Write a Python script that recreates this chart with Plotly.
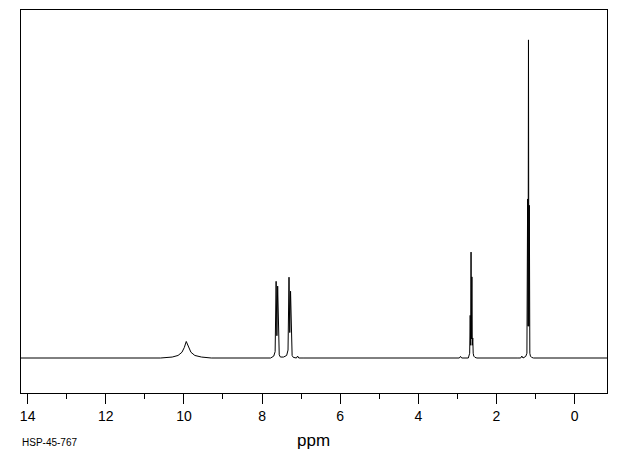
import plotly.graph_objects as go

# Chemical shift (ppm) and relative intensity
ppm = [14.17, 10.6, 10.3, 10.15, 10.05, 9.99, 9.94, 9.89, 9.82, 9.72, 9.55, 9.3,
       7.78, 7.70, 7.665, 7.64, 7.62, 7.60, 7.575, 7.56, 7.53, 7.45, 7.37, 7.335,
       7.31, 7.29, 7.27, 7.245, 7.23, 7.20, 7.12, 7.09, 7.06, 6.95,
       2.95, 2.92, 2.89, 2.72, 2.70, 2.685, 2.672, 2.66, 2.65, 2.64, 2.628,
       2.618, 2.606, 2.595, 2.58, 2.55, 2.5,
       1.45, 1.38, 1.35, 1.32, 1.25, 1.22, 1.202, 1.19, 1.18, 1.17, 1.158, 1.145,
       1.13, 1.10, 1.05, -0.83]
intensity = [0, 0, 0.3, 0.8, 1.8, 3.3, 5.2, 3.6, 1.8, 0.8, 0.3, 0,
             0, 0.6, 2.0, 24.1, 7, 22.6, 2.5, 1.0, 0.3, 0.3, 0.8, 2.5,
             25.4, 8, 21, 2.5, 0.8, 0.2, 0, 0.6, 0, 0,
             0, 0.5, 0, 0, 0.6, 1.5, 13.4, 4, 33.3, 6, 25.5,
             4, 6.3, 1.5, 0.6, 0.2, 0,
             0, 0, 0.6, 0, 0.5, 1.5, 50, 10, 100, 10, 48, 1.5,
             0.6, 0.2, 0, 0]

tick_vals = [14, 12, 10, 8, 6, 4, 2, 0]
tick_text = ["14", "12", "10", "8", "6", "4", "2", "0"]
x_label = "ppm"
sample_id = "HSP-45-767"

fig = go.Figure()
fig.add_trace(go.Scatter(x=ppm, y=intensity, mode="lines",
                         line=dict(color="black", width=1), hoverinfo="skip"))

fig.update_layout(
    width=620, height=455,
    margin=dict(l=13, r=21.3, t=2, b=70),
    paper_bgcolor="white", plot_bgcolor="white",
    showlegend=False,
    font=dict(family="Liberation Sans", color="black"),
    xaxis=dict(range=[14.17, -0.83], showgrid=False, zeroline=False,
               showline=True, linecolor="black", linewidth=1, mirror=True,
               ticks="outside", ticklen=10, tickwidth=1, tickcolor="black",
               tickvals=tick_vals, ticktext=tick_text,
               tickfont=dict(size=14, family="Liberation Sans", color="black"),
               minor=dict(dtick=1, tick0=0, ticks="outside", ticklen=5,
                          tickwidth=1, tickcolor="black", showgrid=False)),
    yaxis=dict(range=[-11.0, 109.4], showgrid=False, zeroline=False,
               showline=True, linecolor="black", linewidth=1, mirror=True,
               showticklabels=False, ticks=""),
    annotations=[
        dict(text=x_label, xref="paper", yref="paper", x=0.499, y=-0.125,
             showarrow=False, xanchor="center", yanchor="middle",
             font=dict(size=17, family="Liberation Sans", color="black")),
        dict(text=sample_id, xref="paper", yref="paper", x=-0.001, y=-0.13,
             showarrow=False, xanchor="left", yanchor="middle",
             font=dict(size=10, family="Liberation Sans", color="black")),
    ],
)

fig.write_html("out.html")
